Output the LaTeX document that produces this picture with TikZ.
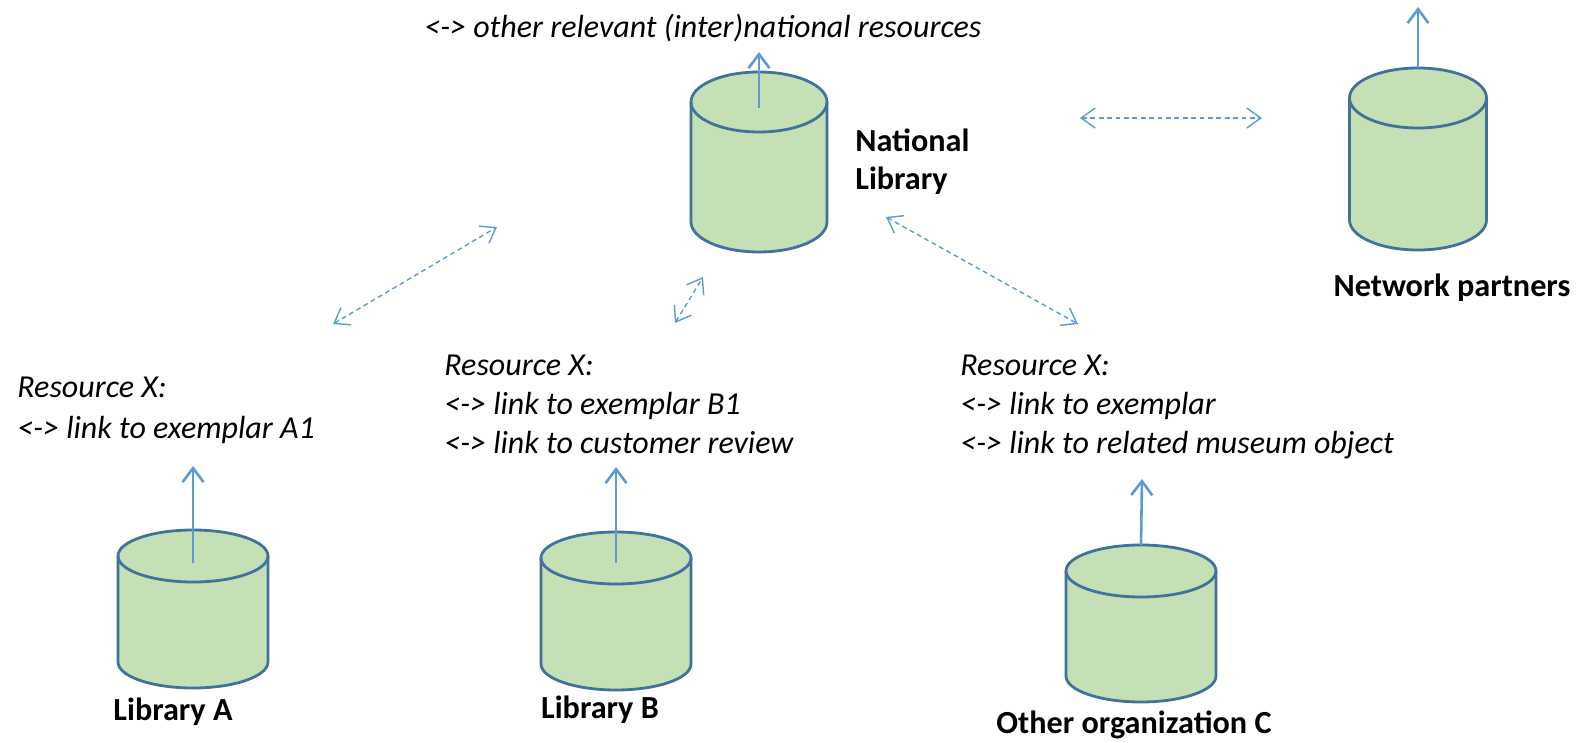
\documentclass[tikz,border=0pt]{standalone}
\usepackage{fontspec}
\setmainfont{Carlito}
\usetikzlibrary{arrows.meta}

\definecolor{drumfill}{RGB}{197,224,180}
\definecolor{drumline}{RGB}{65,113,156}
\definecolor{linkblue}{RGB}{91,155,213}

\tikzset{
  pics/store/.style args={#1/#2/#3}{code={
    \draw[line width=1.4pt,color=drumline,fill=drumfill] (-#1/2,0) -- (-#1/2,#2)
      arc[start angle=180,end angle=0,x radius=#1/2,y radius=#3] -- (#1/2,0)
      arc[start angle=0,end angle=-180,x radius=#1/2,y radius=#3] -- cycle;
    \draw[line width=1.4pt,color=drumline] (-#1/2,0) arc[start angle=180,end angle=0,x radius=#1/2,y radius=#3];
    \coordinate (-c) at (0,0);
    \coordinate (-t) at (0,-#3);
  }},
  uplink/.style={draw=linkblue,line width=1.3pt,-{Straight Barb[length=7pt,width=10.5pt]}},
  crosslink/.style={draw=linkblue,line width=0.7pt,dash pattern=on 2.4pt off 1.8pt,
    {Straight Barb[length=7pt,width=10pt]}-{Straight Barb[length=7pt,width=10pt]}},
  restext/.style={anchor=base west,inner sep=0pt,font=\fontsize{16}{20}\selectfont\itshape},
  storelabel/.style={anchor=base,inner sep=0pt,font=\fontsize{16.1}{20}\selectfont\bfseries},
}

\begin{document}
\begin{tikzpicture}[x=0.5pt,y=-0.5pt]
\useasboundingbox (0,0) rectangle (1576,743);

% data stores
\pic (natLib) at (759,102) {store=136/120/30};
\pic (netPart) at (1418,98) {store=137/122/30};
\pic (libA) at (193,556) {store=150/106/26};
\pic (libB) at (616,558) {store=150/106/26};
\pic (orgC) at (1141,571) {store=150/105/26};

% labels
\node[storelabel,anchor=base west] (natLibName) at (855,152) {National};
\node[storelabel,anchor=base west] (natLibName2) at (855,190) {Library};
\node[storelabel] (netPartName) at (1452,297) {Network partners};
\node[storelabel] (libAName) at (173,720) {Library A};
\node[storelabel] (libBName) at (600,718) {Library B};
\node[storelabel] (orgCName) at (1134,733) {Other organization C};

% resource texts
\node[restext] (natRes) at (424,38) {<-> other relevant (inter)national resources};
\node[restext] (aRes) at (17,398) {Resource X:};
\node[restext] (aRes1) at (17,439) {<-> link to exemplar A1};
\node[restext] (bRes) at (444,376) {Resource X:};
\node[restext] (bRes1) at (444,415) {<-> link to exemplar B1};
\node[restext] (bRes2) at (444,453) {<-> link to customer review};
\node[restext] (cRes) at (960,376) {Resource X:};
\node[restext] (cRes1) at (960,415) {<-> link to exemplar};
\node[restext] (cRes2) at (960,453) {<-> link to related museum object};

% free ends of the links
\coordinate (natLibOut) at (759,52);
\coordinate (netPartOut) at (1418,7);
\coordinate (libAOut) at (193,466);
\coordinate (libBOut) at (616,467);
\coordinate (orgCOut) at (1142,479);
\coordinate (aLinkS) at (333,324);
\coordinate (aLinkE) at (497,227);
\coordinate (bLinkS) at (675,323);
\coordinate (bLinkE) at (703,277);
\coordinate (cLinkS) at (886,217);
\coordinate (cLinkE) at (1078,324);
\coordinate (netLinkS) at (1080,118);
\coordinate (netLinkE) at (1262,118);

% links
\draw[uplink] ([yshift=-3pt]natLib-c) -- (natLibOut);
\draw[uplink] (netPart-t) -- (netPartOut);
\draw[uplink] ([yshift=-3.5pt]libA-c) -- (libAOut);
\draw[uplink] ([yshift=-2.5pt]libB-c) -- (libBOut);
\draw[uplink] (orgC-t) -- (orgCOut);

\draw[crosslink] (aLinkS) -- (aLinkE);
\draw[crosslink] (bLinkS) -- (bLinkE);
\draw[crosslink] (cLinkS) -- (cLinkE);
\draw[crosslink] (netLinkS) -- (netLinkE);

\end{tikzpicture}
\end{document}
